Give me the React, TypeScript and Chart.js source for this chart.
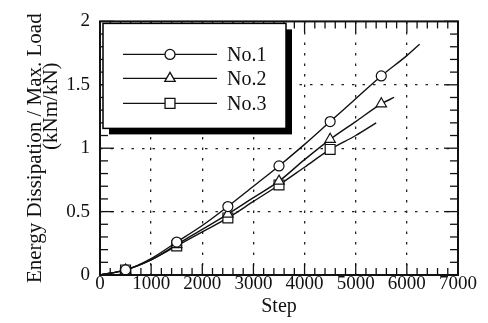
import React, { useEffect, useRef } from "react";
import { Chart, registerables } from "chart.js";

Chart.register(...registerables);

// ---- data ----
const seriesLabels = ["No.1", "No.2", "No.3"];
const pointStyles = ["circle", "triangle", "rect"];
const markerRadii = [5, 6, 7];

const steps1 = [0, 500, 1000, 1500, 2000, 2500, 3000, 3500, 4000, 4500, 5000, 5500, 6000, 6250];
const values1 = [0, 0.04, 0.13, 0.26, 0.39, 0.54, 0.7, 0.86, 1.03, 1.21, 1.39, 1.57, 1.73, 1.82];

const steps2 = [0, 500, 1000, 1500, 2000, 2500, 3000, 3500, 4000, 4500, 5000, 5500, 5750];
const values2 = [0, 0.04, 0.12, 0.24, 0.36, 0.48, 0.61, 0.74, 0.91, 1.07, 1.21, 1.35, 1.4];

const steps3 = [0, 500, 1000, 1500, 2000, 2500, 3000, 3500, 4000, 4500, 5000, 5400];
const values3 = [0, 0.04, 0.12, 0.23, 0.34, 0.45, 0.58, 0.71, 0.85, 0.99, 1.1, 1.2];

const markerSteps = [500, 1500, 2500, 3500, 4500, 5500];

const xTickValues = [0, 1000, 2000, 3000, 4000, 5000, 6000, 7000];
const yTickValues = [0, 0.5, 1, 1.5, 2];
const xMinorStep = 200;
const yMinorStep = 0.1;

const xTitle = "Step";
const yTitleLines = ["Energy Dissipation / Max. Load", "(kNm/kN)"];

const FONT = '"Liberation Serif", "Times New Roman", serif';

function drawMarker(ctx: CanvasRenderingContext2D, style: string, x: number, y: number, r: number) {
  ctx.beginPath();
  if (style === "circle") {
    ctx.arc(x, y, r, 0, Math.PI * 2);
  } else if (style === "triangle") {
    for (let i = 0; i < 3; i++) {
      const a = -Math.PI / 2 + (i * 2 * Math.PI) / 3;
      const px = x + r * Math.cos(a);
      const py = y + r * Math.sin(a);
      if (i === 0) ctx.moveTo(px, py);
      else ctx.lineTo(px, py);
    }
    ctx.closePath();
  } else {
    const s = r * Math.SQRT1_2;
    ctx.rect(x - s, y - s, 2 * s, 2 * s);
  }
  ctx.fillStyle = "#fff";
  ctx.fill();
  ctx.stroke();
}

const frameTicksPlugin = {
  id: "frameTicks",
  afterDatasetsDraw(chart: any) {
    const { ctx, chartArea: ca, scales } = chart;
    const x = scales.x;
    const y = scales.y;
    ctx.save();
    ctx.strokeStyle = "#111";
    ctx.lineWidth = 1.3;
    const seg = (x1: number, y1: number, x2: number, y2: number) => {
      ctx.beginPath();
      ctx.moveTo(x1, y1);
      ctx.lineTo(x2, y2);
      ctx.stroke();
    };
    const xmax = xTickValues[xTickValues.length - 1];
    for (let i = 0; i * xMinorStep <= xmax; i++) {
      const v = i * xMinorStep;
      const px = x.getPixelForValue(v);
      const len = v % 1000 === 0 ? 11 : 7;
      seg(px, ca.bottom, px, ca.bottom - len);
      seg(px, ca.top, px, ca.top + len);
    }
    const ymax = yTickValues[yTickValues.length - 1];
    const n = Math.round(ymax / yMinorStep);
    for (let i = 0; i <= n; i++) {
      const v = i * yMinorStep;
      const py = y.getPixelForValue(v);
      const len = i % 5 === 0 ? 14 : 8;
      seg(ca.left, py, ca.left + len, py);
      seg(ca.right, py, ca.right - len, py);
    }
    ctx.lineWidth = 2;
    ctx.strokeRect(ca.left, ca.top, ca.right - ca.left, ca.bottom - ca.top);
    ctx.restore();
  },
};

const boxLegendPlugin = {
  id: "boxLegend",
  afterDraw(chart: any) {
    const { ctx, chartArea: ca } = chart;
    const bx = ca.left + 3;
    const by = ca.top + 2;
    const bw = 183;
    const bh = 105;
    const sh = 6;
    ctx.save();
    ctx.fillStyle = "#000";
    ctx.fillRect(bx + sh, by + sh, bw, bh);
    ctx.fillStyle = "#fff";
    ctx.fillRect(bx, by, bw, bh);
    ctx.strokeStyle = "#000";
    ctx.lineWidth = 1.5;
    ctx.strokeRect(bx, by, bw, bh);
    const rows = [31, 55, 80];
    chart.data.datasets.forEach((ds: any, i: number) => {
      const ry = by + rows[i];
      ctx.strokeStyle = "#111";
      ctx.lineWidth = 1.3;
      ctx.beginPath();
      ctx.moveTo(bx + 20, ry);
      ctx.lineTo(bx + 114, ry);
      ctx.stroke();
      drawMarker(ctx, pointStyles[i], bx + 67, ry, markerRadii[i]);
      ctx.fillStyle = "#111";
      ctx.font = `20px ${FONT}`;
      ctx.textAlign = "left";
      ctx.textBaseline = "middle";
      ctx.fillText(ds.label, bx + 124, ry + 1);
    });
    ctx.restore();
  },
};

function makeData(steps: number[], values: number[]) {
  return steps.map((s, i) => ({ x: s, y: values[i] }));
}

export default function App() {
  const ref = useRef<HTMLCanvasElement>(null);

  useEffect(() => {
    if (!ref.current) return;
    const allSteps = [steps1, steps2, steps3];
    const allValues = [values1, values2, values3];
    const chart = new Chart(ref.current, {
      type: "line",
      data: {
        datasets: seriesLabels.map((label, i) => ({
          label,
          data: makeData(allSteps[i], allValues[i]),
          borderColor: "#111",
          borderWidth: 1.4,
          backgroundColor: "#fff",
          pointStyle: pointStyles[i],
          pointBorderColor: "#111",
          pointBackgroundColor: "#fff",
          pointBorderWidth: 1.2,
          pointRadius: (c: any) => {
            const p = c.raw;
            return p && markerSteps.includes(p.x) ? markerRadii[i] : 0;
          },
          cubicInterpolationMode: "monotone",
          fill: false,
        })),
      },
      plugins: [frameTicksPlugin, boxLegendPlugin],
      options: {
        animation: false,
        responsive: false,
        events: [],
        layout: { padding: { top: 15, right: 30, left: 0, bottom: 0 } },
        plugins: { legend: { display: false }, tooltip: { enabled: false } },
        scales: {
          x: {
            type: "linear",
            min: 0,
            max: 7000,
            afterBuildTicks: (s: any) => {
              s.ticks = xTickValues.map((v) => ({ value: v }));
            },
            afterFit: (s: any) => {
              s.height = 48;
            },
            ticks: {
              color: "#111",
              font: { family: FONT, size: 19, lineHeight: 1 },
              padding: 0,
              maxRotation: 0,
              autoSkip: false,
              callback: (v: any) => String(v),
            },
            grid: {
              drawTicks: false,
              color: (c: any) =>
                c.tick && (c.tick.value === 0 || c.tick.value === 7000) ? "rgba(0,0,0,0)" : "#222",
              lineWidth: 1.3,
            },
            border: { display: false, dash: [2.5, 8] },
            title: {
              display: true,
              text: xTitle,
              color: "#111",
              font: { family: FONT, size: 20, lineHeight: 1 },
              padding: { top: 0, bottom: 6 },
            },
          },
          y: {
            type: "linear",
            min: 0,
            max: 2,
            afterBuildTicks: (s: any) => {
              s.ticks = yTickValues.map((v) => ({ value: v }));
            },
            afterFit: (s: any) => {
              s.width = 100;
            },
            ticks: {
              color: "#111",
              font: { family: FONT, size: 19 },
              padding: 10,
              callback: (v: any) => String(v),
            },
            grid: {
              drawTicks: false,
              color: (c: any) =>
                c.tick && (c.tick.value === 0 || c.tick.value === 2) ? "rgba(0,0,0,0)" : "#222",
              lineWidth: 1.3,
            },
            border: { display: false, dash: [2.5, 8] },
            title: {
              display: true,
              text: [yTitleLines[0], "\u00a0".repeat(16) + yTitleLines[1]],
              color: "#111",
              font: { family: FONT, size: 21, lineHeight: 0.74 },
              padding: { top: 28, bottom: 0 },
            },
          },
        },
      } as any,
    });
    return () => chart.destroy();
  }, []);

  return (
    <div style={{ position: "fixed", left: 0, top: 0, width: 488, height: 323, background: "#fff" }}>
      <canvas ref={ref} width={488} height={323} />
    </div>
  );
}
